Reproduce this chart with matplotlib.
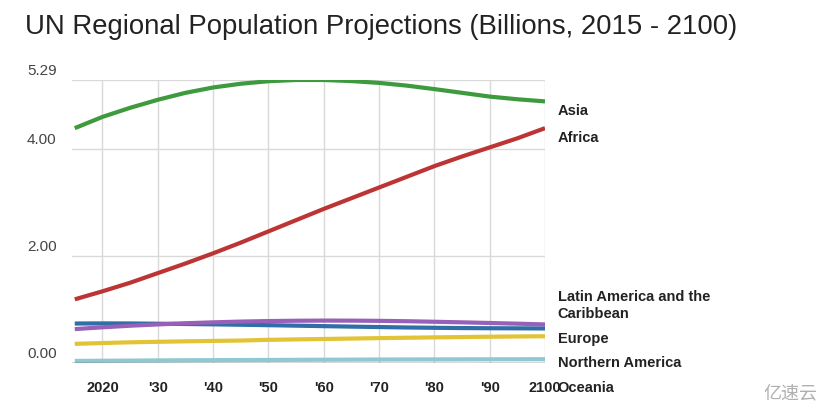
import matplotlib
matplotlib.use('Agg')
import matplotlib.pyplot as plt
import matplotlib.transforms as mtransforms

plt.rcParams['font.family'] = ['Liberation Sans', 'DejaVu Sans']

years = [2015, 2020, 2025, 2030, 2035, 2040, 2045, 2050, 2055,
         2060, 2065, 2070, 2075, 2080, 2085, 2090, 2095, 2100]

# billions, UN medium variant
asia = [4.39, 4.60, 4.77, 4.92, 5.05, 5.15, 5.22, 5.267, 5.29,
        5.29, 5.27, 5.236, 5.185, 5.12, 5.05, 4.98, 4.93, 4.89]
africa = [1.19, 1.34, 1.50, 1.68, 1.86, 2.05, 2.25, 2.46, 2.67,
          2.88, 3.08, 3.28, 3.48, 3.68, 3.86, 4.03, 4.20, 4.39]
latin_america = [0.634, 0.667, 0.697, 0.721, 0.743, 0.760, 0.774, 0.784, 0.790,
                 0.793, 0.792, 0.788, 0.781, 0.771, 0.760, 0.748, 0.735, 0.721]
europe = [0.738, 0.740, 0.739, 0.734, 0.729, 0.723, 0.715, 0.707, 0.698,
          0.689, 0.680, 0.672, 0.664, 0.658, 0.653, 0.650, 0.648, 0.646]
northern_america = [0.358, 0.373, 0.387, 0.396, 0.405, 0.413, 0.420, 0.433, 0.441,
                    0.449, 0.457, 0.465, 0.472, 0.479, 0.485, 0.491, 0.496, 0.500]
oceania = [0.039, 0.042, 0.045, 0.048, 0.051, 0.053, 0.055, 0.057, 0.059,
           0.061, 0.063, 0.065, 0.066, 0.067, 0.068, 0.069, 0.070, 0.071]

xticks = [2020, 2030, 2040, 2050, 2060, 2070, 2080, 2090, 2100]
xtick_labels = ['2020', "'30", "'40", "'50", "'60", "'70", "'80", "'90", '2100']
yticks = [0, 2, 4, 5.29]
ytick_labels = ['0.00', '2.00', '4.00', '5.29']

series = [
    ('Oceania', oceania, '#8fc8d0'),
    ('Northern America', northern_america, '#e3c336'),
    ('Europe', europe, '#2f6ea6'),
    ('Latin America', latin_america, '#9860b8'),
    ('Africa', africa, '#bd3434'),
    ('Asia', asia, '#3d9a3d'),
]

# label positions on the right (data y)
labels = [('Asia', 4.71), ('Africa', 4.21), ('Latin America and the\nCaribbean', 1.07),
          ('Europe', 0.45), ('Northern America', 0.0), ('Oceania', -0.47)]

fig = plt.figure(figsize=(8.28, 4.07), dpi=100)
ax = fig.add_axes([72/828, 1 - 363/407, (545 - 72)/828, (363 - 80)/407])

for x in xticks:
    ax.axvline(x, color='#d9d9d9', lw=1, zorder=0)
for y in yticks[1:]:
    ax.axhline(y, color='#d9d9d9', lw=1, zorder=0)
ax.axhline(0, color='#333333', lw=1, zorder=3)

for name, vals, col in series:
    ax.plot(years, vals, color=col, lw=3, solid_capstyle='butt', zorder=2)

ax.set_xlim(2014.5, 2100)
ax.set_ylim(0, 5.29)
for s in ax.spines.values():
    s.set_visible(False)
ax.set_xticks([])
ax.set_yticks([])

for x, lab in zip(xticks, xtick_labels):
    ax.text(x, -0.47, lab, ha='center', va='center', fontsize=10.5,
            fontweight='bold', color='#222222')

trans = mtransforms.blended_transform_factory(fig.transFigure, ax.transData)
for y, lab in zip(yticks, ytick_labels):
    fig.text(27/828, y + 0.04, lab, transform=trans, ha='left', va='bottom',
             fontsize=11, color='#444444')

for lab, y in labels:
    t = ax.text(2102.3, y, lab, ha='left', va='center', fontsize=10.5,
                fontweight='bold', color='#222222', linespacing=1.25, zorder=5)
    t.set_clip_on(False)

fig.text(25/828, 1 - 27/407, 'UN Regional Population Projections (Billions, 2015 - 2100)',
         ha='left', va='center', fontsize=19.8, color='#222222')

fig.text(790/828, 1 - 393/407, '亿速云', ha='center', va='center', fontsize=13,
         color='#b0b0b0', family=['Noto Sans CJK SC', 'DejaVu Sans'])

fig.savefig('out.png', dpi=100, facecolor='white')
